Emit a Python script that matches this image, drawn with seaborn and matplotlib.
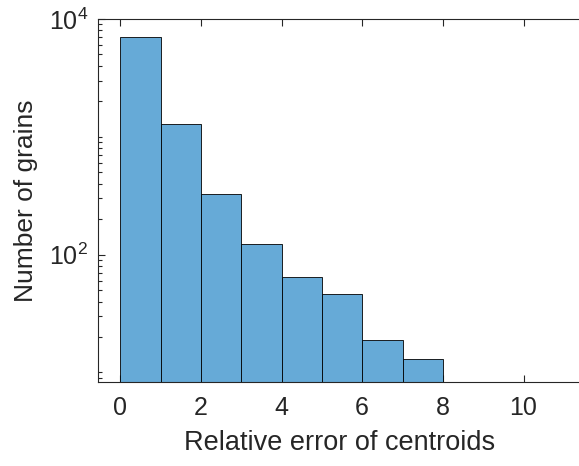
import numpy as np
import pandas as pd
import matplotlib
matplotlib.use("Agg")
import matplotlib.pyplot as plt
import matplotlib.ticker as mticker
import seaborn as sns

# Data: histogram bins of relative centroid error and counts
bin_edges = [0, 1, 2, 3, 4, 5, 6, 7, 8, 9, 10]
counts = [7080, 1280, 327, 123, 65, 46, 19, 13, 2, 1]
x_ticks = [0, 2, 4, 6, 8, 10]
y_major = [1e2, 1e4]

sns.set_style("white")
plt.rcParams['font.family'] = ['Liberation Sans', 'DejaVu Sans']
plt.rcParams['mathtext.fontset'] = 'custom'
plt.rcParams['mathtext.rm'] = 'Liberation Sans'

centers = [(a + b) / 2 for a, b in zip(bin_edges[:-1], bin_edges[1:])]
df = pd.DataFrame({"err": centers, "n": counts})

fig = plt.figure(figsize=(5.79, 4.66), dpi=100)
ax = fig.add_axes([98 / 579, 1 - 382 / 466, (582 - 98) / 579, (382 - 19) / 466])

face = (0.4, 0.668, 0.845)
sns.histplot(data=df, x="err", weights="n", bins=bin_edges, ax=ax,
             color=face, alpha=1.0, edgecolor="black", linewidth=0.6,
             log_scale=(False, True))

ax.set_yscale("log")
ax.set_xlim(-0.55, 11.45)
ax.set_ylim(8.3, 1e4)

spine_c = (0.15, 0.15, 0.15)
for s in ax.spines.values():
    s.set_color(spine_c)
    s.set_linewidth(0.8)
    s.set_visible(True)
ax.spines["right"].set_visible(False)

ax.set_xticks(x_ticks)
ax.yaxis.set_major_locator(mticker.FixedLocator(y_major))
ax.yaxis.set_major_formatter(mticker.LogFormatterSciNotation())
ax.yaxis.set_minor_locator(mticker.LogLocator(base=10, subs=np.arange(1, 10), numticks=50))
ax.yaxis.set_minor_formatter(mticker.NullFormatter())
ax.xaxis.set_minor_locator(mticker.NullLocator())

ax.tick_params(axis="both", which="both", direction="in", top=True, right=False,
               bottom=True, left=True,
               color=spine_c, labelcolor=spine_c, labelsize=18, width=0.8)
ax.tick_params(axis="both", which="major", length=5)
ax.tick_params(axis="y", which="minor", length=3)
ax.tick_params(axis="x", which="major", pad=10)
ax.tick_params(axis="y", which="major", pad=7)

ax.set_xlabel("Relative error of centroids", fontsize=19.5, color=spine_c, labelpad=7)
ax.set_ylabel("Number of grains", fontsize=19, color=spine_c, labelpad=8)

fig.savefig("out.png", dpi=100)
